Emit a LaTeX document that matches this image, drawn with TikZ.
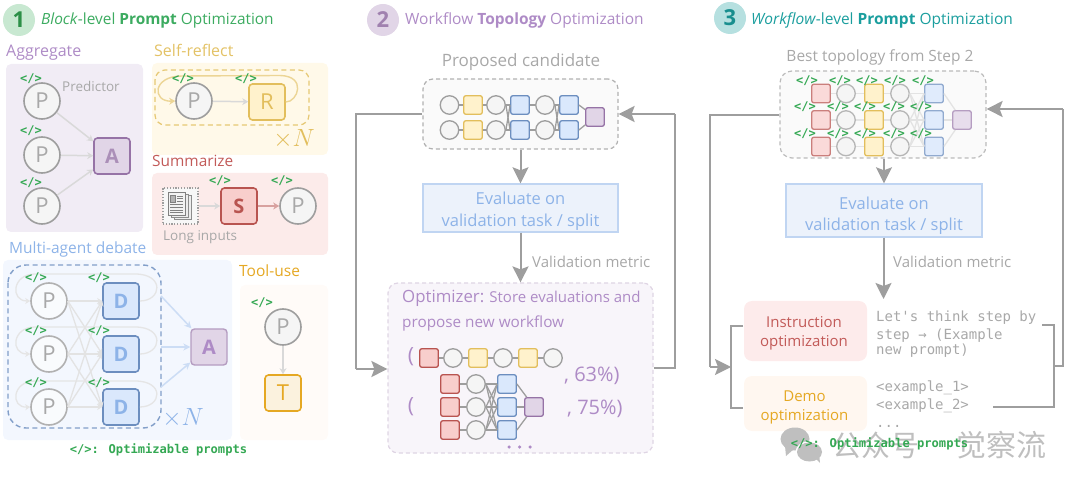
\documentclass[tikz,border=0pt]{standalone}
\usepackage{fontspec}
\setmainfont{Open Sans}
\newfontfamily\monof{DejaVu Sans Mono}
\newfontfamily\cjkf{Noto Sans CJK SC}
\usetikzlibrary{arrows.meta,shapes.geometric,calc}
\definecolor{cgreen}{HTML}{34A853}
\definecolor{cgreenT}{HTML}{3CAB60}
\definecolor{cpur}{HTML}{AE8BC6}
\definecolor{cpurd}{HTML}{9673A6}
\definecolor{cpurf}{HTML}{E1D5E7}
\definecolor{cyel}{HTML}{E3C266}
\definecolor{cyeld}{HTML}{E2BE5C}
\definecolor{cyelf}{HTML}{FFF2CC}
\definecolor{cred}{HTML}{C25A58}
\definecolor{credd}{HTML}{B85450}
\definecolor{credf}{HTML}{F8CECC}
\definecolor{cblue}{HTML}{8DB3E8}
\definecolor{cblued}{HTML}{6C8EBF}
\definecolor{cbluef}{HTML}{DAE8FC}
\definecolor{cora}{HTML}{E5A823}
\definecolor{cteal}{HTML}{1B9E9E}
\definecolor{cgry}{HTML}{9E9E9E}
\definecolor{ctxt}{HTML}{A8A8A8}
\newcommand{\fsz}[1]{\fontsize{#1}{#1}\selectfont}
\newcounter{tagc}
\newcommand{\tagat}[2]{\stepcounter{tagc}\node[tagtxt] (tag\thetagc) at (#1,#2) {</>};}
\tikzset{
 x=1pt,y=-1pt,
 txt/.style={inner sep=0pt,anchor=west,text height={#1*0.84pt},text depth={#1*0.2pt},font=\fsz{#1}},
 txt/.default=16,
 ctr/.style={inner sep=0pt,align=center},
 tagtxt/.style={inner sep=0pt,text=cgreen,font=\monof\bfseries\fsz{12}},
 pbox/.style={rounded corners=5pt,draw=none},
 pn/.style={circle,draw=cgry,fill=black!4,line width=1.6pt,minimum size=36pt,inner sep=0pt,text=ctxt,font=\fsz{22}},
 sq/.style={rounded corners=3.5pt,line width=1.6pt,minimum size=36pt,inner sep=0pt,font=\bfseries\fsz{20}},
 sqa/.style={sq,draw=cpurd,fill=cpurf,text=cpurd!80},
 sqr/.style={sq,draw=cyeld,fill=cyelf,text=cyeld},
 sqs/.style={sq,draw=credd,fill=credf,text=credd},
 sqd/.style={sq,draw=cblued,fill=cbluef,text=cblue},
 sqt/.style={sq,draw=cora,fill=cora!15!white,text=cora,font=\fsz{22}},
 ga/.style={draw=black!15,line width=1.5pt,-{Stealth[length=6pt,width=7pt]}},
 gl/.style={draw=black!11,line width=1.3pt,-{Stealth[length=5pt,width=6pt]}},
 bigarr/.style={draw=cgry,line width=2pt,-{Stealth[length=16pt,width=16pt,inset=3pt]}},
 biglin/.style={draw=cgry,line width=2pt},
 mc/.style={circle,draw=cgry,fill=black!4,line width=1.3pt,minimum size=18.5pt,inner sep=0pt},
 mr/.style={rounded corners=2pt,draw=credd,fill=credf,line width=1.3pt,minimum size=18.5pt,inner sep=0pt},
 my/.style={rounded corners=2pt,draw=cyeld,fill=cyelf,line width=1.3pt,minimum size=18.5pt,inner sep=0pt},
 mb/.style={rounded corners=2pt,draw=cblued,fill=cbluef,line width=1.3pt,minimum size=18.5pt,inner sep=0pt},
 mp/.style={rounded corners=2pt,draw=cpurd,fill=cpurf,line width=1.3pt,minimum size=18.5pt,inner sep=0pt},
 me/.style={draw=cgry,line width=1.3pt},
 mef/.style={draw=black!11,line width=1.3pt},
 dashb/.style={rounded corners=10pt,dash pattern=on 4pt off 3pt,line width=1.2pt},
 evalb/.style={draw=cblue!55,fill=cblue!17,line width=1.4pt,inner sep=0pt},
 evalt/.style={ctr,text=cblue,font=\fsz{16.5}},
 badge/.style={circle,minimum size=32pt,inner sep=0pt,font=\bfseries\fsz{22}},
 mono/.style={txt=14,text=ctxt,font=\monof\fsz{14}},
 wm/.style={black!25},
}
\begin{document}
\begin{tikzpicture}
\useasboundingbox (0,0) rectangle (1080,489);
% ---------- Panel 1 ----------
\node[badge,fill=cgreen!27,text=cgreen!85!black] (b1) at (19,20) {1};
\node[txt=15.4,text=cgreenT] (t1) at (41,20) {\textit{Block}-level \textbf{Prompt} Optimization};
\node[txt=16,text=cpur] (lagg) at (6,51) {Aggregate};
\fill[pbox,fill={rgb,255:red,241;green,236;blue,245}] (6,64) rectangle (143,232);
\node[pn] (ap1) at (42,101) {P};
\node[pn] (ap2) at (42,155) {P};
\node[pn] (ap3) at (42,206) {P};
\node[sqa] (aa) at (112,156) {A};
\foreach \s in {ap1,ap2,ap3} \draw[ga] (\s) -- (aa);
\tagat{31}{79}\tagat{31}{131}\tagat{31}{183}
\node[txt=13.5,text=ctxt] (pred) at (62,87) {Predictor};
% self reflect
\node[txt=16,text=cyel] (lsr) at (154,51) {Self-reflect};
\fill[pbox,fill={rgb,255:red,255;green,249;blue,233}] (152,63) rectangle (328,155);
\draw[dashb,draw=cyeld!85,dash pattern=on 5pt off 3.5pt] (155,70) rectangle (309,125);
\node[pn] (sp) at (194,101) {P};
\node[sqr,font=\fsz{22}] (sr) at (267,102) {R};
\draw[ga] (sp) -- (sr);
\draw[draw=cyeld!65,line width=1.4pt,-{Stealth[length=6pt,width=7pt]}] (sr.east) .. controls (298,102) and (307,76) .. (280,75.5) -- (182,76) .. controls (152,76) and (152,102) .. (sp.west);
\tagat{183}{79}\tagat{246}{79}
\node[text=cyeld,inner sep=0pt,font=\fsz{23}] (sn) at (294,139) {$\times N$};
% summarize
\node[txt=15.4,text=cred] (lsu) at (152,162) {Summarize};
\fill[pbox,fill={rgb,255:red,252;green,235;blue,234}] (152,173) rectangle (328,255);
\node[draw=cgry,dash pattern=on 1.2pt off 1.6pt,line width=1.3pt,fill=black!3,minimum width=35pt,minimum height=36pt,inner sep=0pt] (doc) at (180.5,206) {};
\fill[black!7,draw=black!45,line width=.7pt] (174,195) rectangle (191,219);
\fill[black!7,draw=black!45,line width=.7pt] (171,194) rectangle (188,217);
\fill[black!5,draw=black!50,line width=.7pt] (168,192) rectangle (185,215);
\fill[black!30,draw=black!50,line width=.4pt] (170.5,195) rectangle (175.5,202);
\foreach \yy in {196,198.5,201,204,207,210,212.5}{\draw[black!50,line width=.7pt] (\ifdim\yy pt<203pt 177\else 170\fi,\yy) -- (183,\yy);}
\node[sqs] (ss) at (239,206) {S};
\node[pn] (su) at (298,206) {P};
\draw[ga] (doc) -- (ss);
\draw[ga,draw=credd!55] (ss) -- (su);
\tagat{220}{181}\tagat{282}{181}
\node[txt=13.5,text=ctxt] (long) at (163,236) {Long inputs};
% debate
\node[txt=15.5,text=cblue] (ldeb) at (9,249) {Multi-agent debate};
\fill[pbox,fill={rgb,255:red,243;green,247;blue,254}] (3,260) rectangle (232,440);
\foreach \i/\yy in {1/301,2/354,3/407}{
 \node[pn,draw=cgry!80,fill=black!4!cblue!5,text=ctxt] (dp\i) at (49,\yy) {P};
 \node[sqd] (dd\i) at (121,\yy) {D};
}
\foreach \i in {1,2,3}{\foreach \j in {1,2,3}{\draw[gl] (dp\i.east) -- (dd\j.west);}}
\foreach \i/\yy in {1/274,2/327,3/381}{
 \draw[draw=black!10,line width=1.3pt,-{Stealth[length=5pt,width=6pt]}] (dd\i.east) .. controls ($(dd\i.east)+(22,0)$) and (165,\yy) .. (135,\yy) -- (35,\yy) .. controls (12,\yy) and (10,\yy+27) .. (dp\i.west);
}
\draw[draw=cblued!85,dash pattern=on 5pt off 3.5pt,rounded corners=18pt,line width=1.4pt] (8,265) rectangle (161,428);
\node[sqa,line width=1.4pt,draw=cpurd!70,fill=cpurf,text=cpur] (da) at (209,347) {A};
\coordinate (dq1) at (161,296);
\coordinate (dq2) at (161,347);
\coordinate (dq3) at (161,387);
\foreach \q in {dq1,dq2,dq3}\draw[draw=cblue!45,line width=1.5pt,-{Stealth[length=7pt,width=7pt]}] (\q) -- (da);
\tagat{36}{278}\tagat{99}{278}\tagat{36}{331}\tagat{99}{331}\tagat{36}{383}\tagat{99}{383}
\node[text=cblue,inner sep=0pt,font=\fsz{23}] (dn) at (183,418) {$\times N$};
% tool
\node[txt=15.5,text=cora] (ltool) at (239,272) {Tool-use};
\fill[pbox,fill={rgb,255:red,255;green,251;blue,248}] (240,285) rectangle (328,440);
\tagat{262}{303}
\node[pn] (tp) at (283,327) {P};
\node[sqt] (tt) at (283,393) {T};
\draw[ga] (tp) -- (tt);
\node[inner sep=0pt,text=cgreen,font=\monof\bfseries\fsz{12.1}] (leg1) at (158.5,450) {</>: Optimizable prompts};
% ---------- Panel 2 ----------
\node[badge,fill=cpurf,text=cpurd!90] (b2) at (383,20) {2};
\node[txt=15.5,text=cpur] (t2) at (405,20) {Workflow \textbf{Topology} Optimization};
\node[txt=17,anchor=center,text=ctxt] (pc) at (521,61) {Proposed candidate};
\node[draw=cgry!80,fill=black!2,dashb,minimum width=195pt,minimum height=70pt,inner sep=0pt] (cand) at (520.5,114) {};
\foreach \r/\yy in {1/105,2/130}{
 \node[mc] (a\r) at (449.5,\yy) {};
 \node[my] (b\r) at (473,\yy) {};
 \node[mc] (c\r) at (496,\yy) {};
 \node[mb] (d\r) at (520,\yy) {};
 \node[mc] (e\r) at (545,\yy) {};
 \node[mb] (f\r) at (569,\yy) {};
 \draw[me] (a\r)--(b\r) (b\r)--(c\r) (d\r)--(e\r);
}
\node[mp] (gg) at (595,117) {};
\foreach \i in {1,2}{\foreach \j in {1,2}{\draw[me] (c\i.east)--(d\j.west) (e\i.east)--(f\j.west);}\draw[me] (f\i.east)--(gg);}
\node[evalb,minimum width=195pt,minimum height=48pt] (ev2) at (520.5,208) {};
\node[evalt] (ev2t) at (520.5,211) {Evaluate on\\[5pt]validation task / split};
\draw[bigarr] (cand.south) -- (ev2.north);
\node[draw=cpurd!30,fill={rgb,255:red,248;green,245;blue,250},dashb,minimum width=265pt,minimum height=170pt,inner sep=0pt] (opt) at (520.5,368) {};
\draw[bigarr] (ev2.south) -- (opt.north);
\node[txt=15,text=ctxt] (vm2) at (532,263) {Validation metric};
\node[txt=15,text=cpur] (o1) at (402,298) {{\fsz{16.8}Optimizer:} Store evaluations and};
\node[txt=15.3,text=cpur] (o2) at (402,323) {propose new workflow};
\node[inner sep=0pt,text=cpur,font=\fsz{21}] (lp1) at (411,357) {(};
\node[mr] (r1) at (429,358) {};
\node[mc] (r2) at (453,358) {};
\node[my] (r3) at (478,358) {};
\node[mc] (r4) at (503,358) {};
\node[my] (r5) at (528,358) {};
\node[mc] (r6) at (553,358) {};
\draw[me] (r1)--(r2) (r2)--(r3) (r3)--(r4) (r4)--(r5) (r5)--(r6);
\node[txt=20,text=cpur] (p63) at (564,375) {, 63\%)};
\node[inner sep=0pt,text=cpur,font=\fsz{21}] (lp2) at (411,407) {(};
\foreach \r/\yy in {1/384,2/407,3/430}{
 \node[mr] (s\r) at (450,\yy) {};
 \node[mc] (u\r) at (476,\yy) {};
 \node[mb] (v\r) at (507,\yy) {};
 \draw[me] (s\r)--(u\r);
}
\node[mp] (w) at (534,407) {};
\foreach \i in {1,2,3}{\foreach \j in {1,2,3}{\draw[me] (u\i.east)--(v\j.west);}\draw[me] (v\i.east)--(w);}
\node[txt=20,text=cpur] (p75) at (567,408) {, 75\%)};
\foreach \xx/\n in {509/1,519.5/2,530/3}{\node[circle,fill=cpur,minimum size=3.5pt,inner sep=0pt] (dot\n) at (\xx,447) {};}
\draw[biglin] (cand.west|-0,114) -- (356,114) -- (356,369);
\draw[bigarr] (356,369) -- (opt.west|-0,369);
\draw[biglin] (opt.east|-0,368) -- (675,368) -- (675,114);
\draw[bigarr] (675,114) -- (cand.east|-0,114);
% ---------- Panel 3 ----------
\node[badge,fill=cteal!32,text=cteal!90!black] (b3) at (730,18) {3};
\node[txt=15.5,text=cteal] (t3) at (751,20) {\textit{Workflow}-level \textbf{Prompt} Optimization};
\node[txt=15.5,anchor=center,text=ctxt] (bt) at (880,57) {Best topology from Step 2};
\node[draw=cgry!70,fill=black!2,dashb,rounded corners=12pt,minimum width=206pt,minimum height=87pt,inner sep=0pt] (best) at (883,114.5) {};
\foreach \r/\yy in {1/93.5,2/120,3/146.5}{
 \node[mr,draw=credd!75,fill=credf!75] (xa\r) at (821,\yy) {};
 \node[mc,draw=cgry!75] (xb\r) at (846,\yy) {};
 \node[my,fill=cyelf] (xc\r) at (874,\yy) {};
 \node[mc,draw=cgry!75] (xd\r) at (900,\yy) {};
 \node[mb,draw=cblued!75,fill=cbluef!85] (xe\r) at (934,\yy) {};
 \draw[mef] (xa\r)--(xb\r) (xb\r)--(xc\r) (xc\r)--(xd\r);
}
\node[mp,draw=cpurd!70,fill=cpurf!80] (xf) at (962,120) {};
\foreach \i in {1,2,3}{\foreach \j in {1,2,3}{\draw[mef] (xd\i.east)--(xe\j.west);}\draw[mef] (xe\i.east)--(xf);}
\foreach \xx in {807,840,867,895,923}{\tagat{\xx}{81}}
\foreach \xx in {805,838,865,894,921}{\tagat{\xx}{107}\tagat{\xx}{134}}
\node[evalb,minimum width=196pt,minimum height=53pt] (ev3) at (884,210.5) {};
\node[evalt] (ev3t) at (884,215.5) {Evaluate on\\[5pt]validation task / split};
\draw[bigarr] (best.south-|ev3.north) -- (ev3.north);
\coordinate (in3) at (883.5,299);
\draw[bigarr] (ev3.south-|in3) -- (in3);
\node[txt=15,text=ctxt] (vm3) at (893,263) {Validation metric};
\node[fill={rgb,255:red,253;green,235;blue,235},rounded corners=8pt,minimum width=123pt,minimum height=60pt,inner sep=0pt] (ins) at (805.5,331) {};
\node[ctr,text=cred,font=\fsz{15}] (inst) at (804,333.5) {Instruction\\[4.5pt]optimization};
\node[fill={rgb,255:red,255;green,247;blue,240},rounded corners=8pt,minimum width=123pt,minimum height=55pt,inner sep=0pt] (dem) at (805.5,403.5) {};
\node[ctr,text=cora,font=\fsz{15}] (demt) at (804.5,407.5) {Demo\\[4.5pt]optimization};
\draw[biglin] (743,326) -- (731,326) -- (731,408) -- (743,408);
\coordinate (br) at (731,367);
\draw[biglin] (best.west|-0,115) -- (710,115) -- (710,367);
\draw[bigarr] (710,367) -- (br);
\node[mono] (m1) at (876,317) {Let's think step by};
\node[mono] (m2) at (876,335) {step → (Example};
\node[mono] (m3) at (876,350) {new prompt)};
\node[mono] (m4) at (876,387) {<example\_1>};
\node[mono] (m5) at (876,405) {<example\_2>};
\node[mono] (m6) at (876,423) {...};
\draw[biglin] (1042,325) -- (1054,325) -- (1054,407) -- (993,407);
\draw[biglin] (1054,366) -- (1063,366) -- (1063,109);
\draw[bigarr] (1063,109) -- (best.east|-0,109);
% watermark
\fill[wm] (795,439) ellipse (14.5pt and 11.5pt);
\fill[wm] (785,446) -- (786,456) -- (794,449) -- cycle;
\fill[white] (809.5,452) ellipse (14pt and 11pt);
\fill[wm] (809.5,452) ellipse (12.5pt and 9.5pt);
\fill[wm] (815,458) -- (820,463) -- (819,453) -- cycle;
\node[inner sep=0pt,text=black!25,font=\cjkf\fsz{29}] (wm1) at (876,445) {公众号};
\node[inner sep=0pt,text=black!25,font=\cjkf\fsz{30}] (wm3) at (1001,445) {觉察流};
\node[inner sep=0pt,text=cgreen,font=\monof\bfseries\fsz{12.1}] (leg2) at (879.5,444) {</>: Optimizable prompts};
\end{tikzpicture}
\end{document}
